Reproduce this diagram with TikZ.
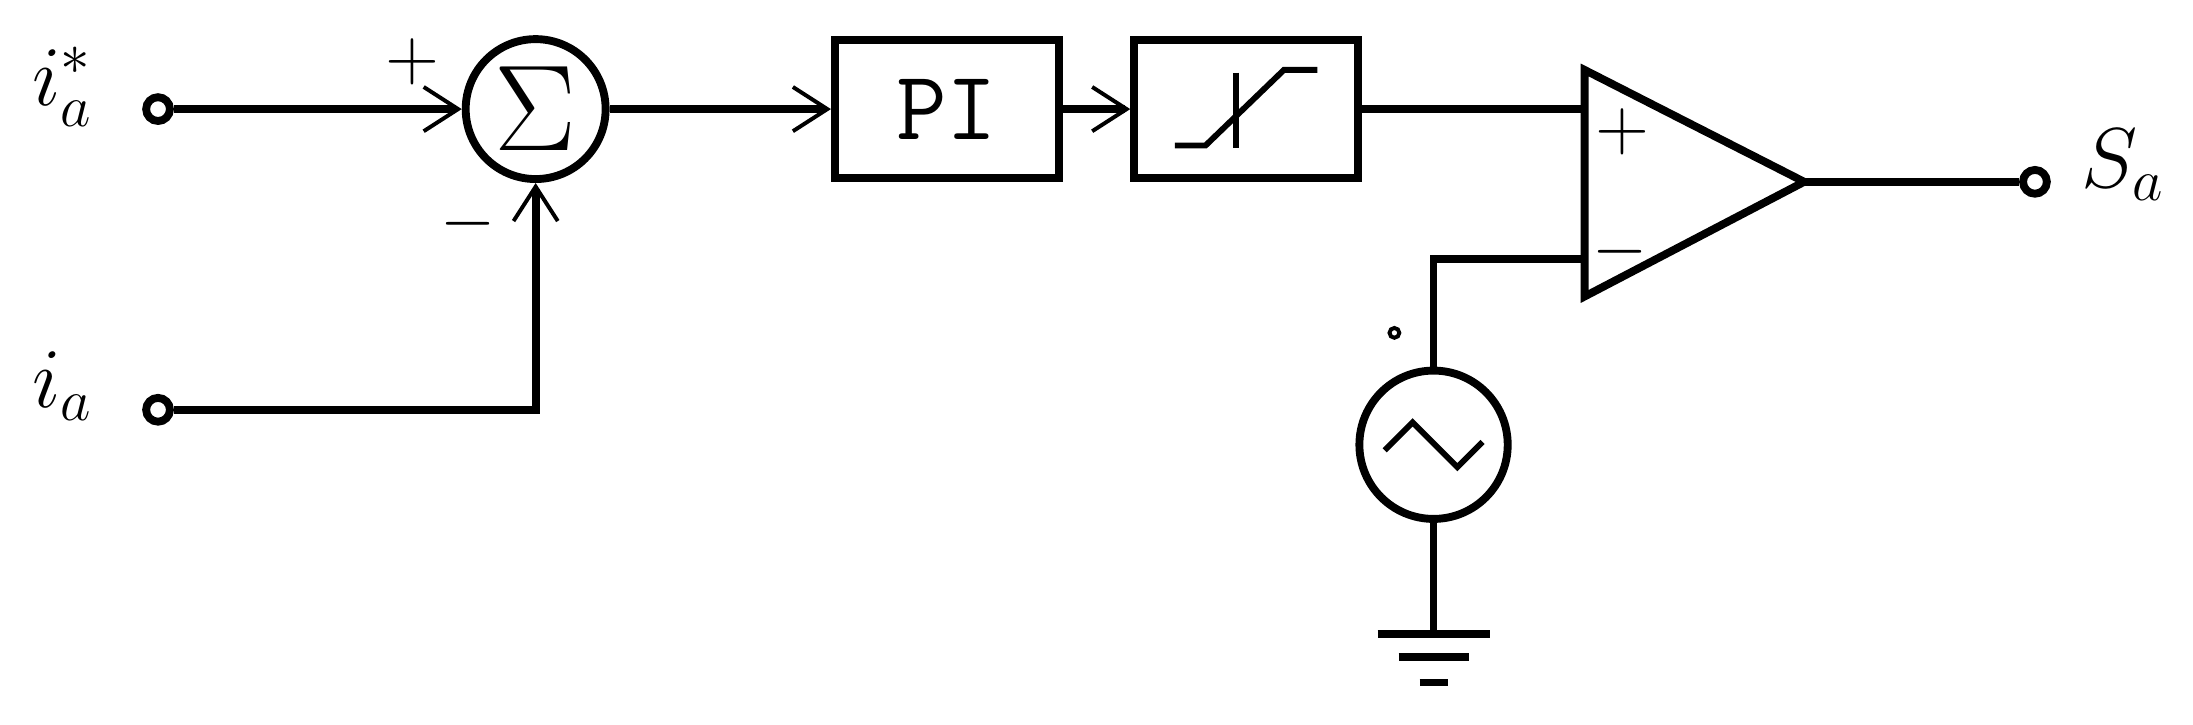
\documentclass[tikz,border=0pt]{standalone}
\usepackage{amsmath}
\usetikzlibrary{arrows.meta}
\begin{document}
\begin{tikzpicture}[x=0.01cm,y=-0.01cm, line width=1.6pt,
  blk/.style={draw, minimum width=1.6cm, minimum height=0.99cm, inner sep=0pt},
  term/.style={draw, circle, minimum size=0.17cm, inner sep=0pt},
  lbl/.style={font=\fontsize{18}{20}\selectfont},
  sgn/.style={font=\fontsize{14}{16}\selectfont},
  sig/.style={-{Straight Barb[length=7pt,width=9pt,line width=0.8pt]}}]
  \useasboundingbox (0,0) rectangle (1568,518);

  % inputs and summing junction
  \node[term] (ref) at (113,78) {};
  \node[term] (meas) at (113,293) {};
  \node[lbl] at (45,62) {$i_a^*$};
  \node[lbl] at (45,276) {$i_a$};
  \node[draw, circle, minimum size=1cm, inner sep=0pt] (sum) at (383,78) {};
  \node[font=\fontsize{24}{26}\selectfont] at (sum) {$\Sigma$};
  \node[sgn] at (295,44) {$+$};
  \node[sgn] at (335,160) {$-$};

  % controller and limiter
  \node[blk, font=\ttfamily\fontsize{20}{22}\selectfont] (pi) at (677,78) {PI};
  \node[blk] (sat) at (891,78) {};
  \draw[line width=1.2pt] (840,104) -- (862,104) -- (918,50) -- (942,50);
  \draw[line width=1.2pt] (884,52) -- (884,106);

  % comparator
  \coordinate (cpa) at (1133,50);
  \coordinate (cpb) at (1133,212);
  \coordinate (cpo) at (1290,130);
  \coordinate (cpp) at (1133,78);
  \coordinate (cpm) at (1133,185);
  \draw (cpa) -- (cpo) -- (cpb) -- cycle;
  \node[sgn] at (1160,94) {$+$};
  \node[sgn] at (1158,180) {$-$};
  \node[term] (out) at (1455,130) {};
  \node[lbl] at (1518,118) {$S_a$};

  % carrier source and ground
  \node[draw, circle, minimum size=1.06cm, inner sep=0pt] (src) at (1025,318) {};
  \draw[line width=1.2pt] (990,322) -- (1010,302) -- (1042,334) -- (1060,316);
  \node[draw, circle, minimum size=0.07cm, inner sep=0pt, line width=0.8pt] (pol) at (997,238) {};
  \coordinate (gnd) at (1025,453);
  \draw (985,453) -- (1065,453);
  \draw (1000,470) -- (1050,470);
  \draw (1015,488) -- (1035,488);

  % connections
  \draw[sig] (ref) -- (sum);
  \draw[sig] (meas) -| (sum);
  \draw[sig] (sum) -- (pi);
  \draw[sig] (pi) -- (sat);
  \draw (sat) -- (cpp);
  \draw (cpo) -- (out);
  \draw (src) |- (cpm);
  \draw (src) -- (gnd);
\end{tikzpicture}
\end{document}
